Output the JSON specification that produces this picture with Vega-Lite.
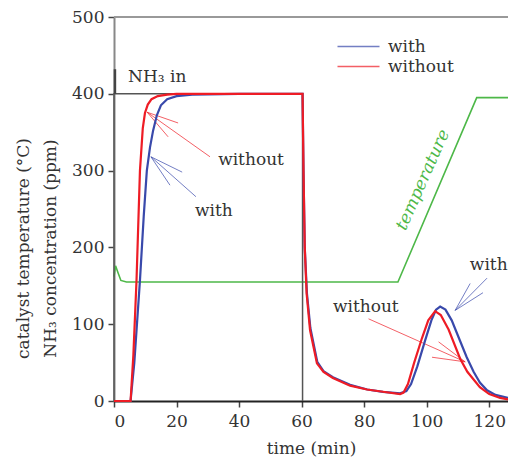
{
  "$schema": "https://vega.github.io/schema/vega-lite/v6.json",
  "width": 394,
  "height": 384,
  "autosize": "none",
  "padding": {"left": 114, "top": 17, "right": 0, "bottom": 58},
  "background": "white",
  "config": {
    "view": {"stroke": null},
    "font": "DejaVu Serif",
    "axis": {
      "grid": false,
      "labelFont": "DejaVu Serif",
      "labelFontSize": 17,
      "labelColor": "#333",
      "tickColor": "#444",
      "tickSize": 6,
      "tickWidth": 1.5,
      "titleFont": "DejaVu Serif",
      "titleFontSize": 17,
      "titleFontWeight": "normal",
      "titleColor": "#333"
    }
  },
  "datasets": {
    "curves": [
      {"t": 0, "v": 0, "series": "with"},
      {"t": 5.3, "v": 0, "series": "with"},
      {"t": 6.5, "v": 50, "series": "with"},
      {"t": 8.3, "v": 157, "series": "with"},
      {"t": 9.5, "v": 240, "series": "with"},
      {"t": 10.5, "v": 300, "series": "with"},
      {"t": 11.5, "v": 330, "series": "with"},
      {"t": 12.5, "v": 352, "series": "with"},
      {"t": 13.7, "v": 372, "series": "with"},
      {"t": 15, "v": 385, "series": "with"},
      {"t": 17, "v": 393, "series": "with"},
      {"t": 20, "v": 397, "series": "with"},
      {"t": 25, "v": 399, "series": "with"},
      {"t": 40, "v": 400, "series": "with"},
      {"t": 60.3, "v": 400, "series": "with"},
      {"t": 60.6, "v": 300, "series": "with"},
      {"t": 61.0, "v": 200, "series": "with"},
      {"t": 61.7, "v": 140, "series": "with"},
      {"t": 62.8, "v": 95, "series": "with"},
      {"t": 65, "v": 51, "series": "with"},
      {"t": 67, "v": 39, "series": "with"},
      {"t": 70, "v": 31, "series": "with"},
      {"t": 75.5, "v": 21, "series": "with"},
      {"t": 81, "v": 15, "series": "with"},
      {"t": 86, "v": 12, "series": "with"},
      {"t": 91.5, "v": 10, "series": "with"},
      {"t": 93.5, "v": 13, "series": "with"},
      {"t": 95, "v": 22, "series": "with"},
      {"t": 97, "v": 45, "series": "with"},
      {"t": 99.5, "v": 79, "series": "with"},
      {"t": 101.5, "v": 105, "series": "with"},
      {"t": 103, "v": 119, "series": "with"},
      {"t": 104.3, "v": 123, "series": "with"},
      {"t": 106, "v": 119, "series": "with"},
      {"t": 108, "v": 105, "series": "with"},
      {"t": 110, "v": 85, "series": "with"},
      {"t": 112.8, "v": 57, "series": "with"},
      {"t": 115, "v": 38, "series": "with"},
      {"t": 117, "v": 24, "series": "with"},
      {"t": 119.3, "v": 14, "series": "with"},
      {"t": 122, "v": 8, "series": "with"},
      {"t": 126, "v": 4, "series": "with"},
      {"t": 0, "v": 0, "series": "without"},
      {"t": 5.3, "v": 0, "series": "without"},
      {"t": 6.2, "v": 60, "series": "without"},
      {"t": 7.2, "v": 157, "series": "without"},
      {"t": 8.3, "v": 300, "series": "without"},
      {"t": 9.2, "v": 355, "series": "without"},
      {"t": 9.9, "v": 375, "series": "without"},
      {"t": 10.8, "v": 386, "series": "without"},
      {"t": 12, "v": 393, "series": "without"},
      {"t": 14, "v": 397, "series": "without"},
      {"t": 17, "v": 399, "series": "without"},
      {"t": 20, "v": 400, "series": "without"},
      {"t": 40, "v": 400, "series": "without"},
      {"t": 60.3, "v": 400, "series": "without"},
      {"t": 60.6, "v": 300, "series": "without"},
      {"t": 61.0, "v": 200, "series": "without"},
      {"t": 61.6, "v": 140, "series": "without"},
      {"t": 62.7, "v": 92, "series": "without"},
      {"t": 64.9, "v": 49, "series": "without"},
      {"t": 67, "v": 38, "series": "without"},
      {"t": 70, "v": 30, "series": "without"},
      {"t": 75.5, "v": 20, "series": "without"},
      {"t": 80.9, "v": 15, "series": "without"},
      {"t": 86, "v": 12, "series": "without"},
      {"t": 91.5, "v": 9, "series": "without"},
      {"t": 92.6, "v": 11, "series": "without"},
      {"t": 94, "v": 22, "series": "without"},
      {"t": 96, "v": 50, "series": "without"},
      {"t": 98.5, "v": 82, "series": "without"},
      {"t": 100.5, "v": 105, "series": "without"},
      {"t": 102.7, "v": 117, "series": "without"},
      {"t": 104.5, "v": 112, "series": "without"},
      {"t": 107, "v": 93, "series": "without"},
      {"t": 110.7, "v": 55, "series": "without"},
      {"t": 113, "v": 38, "series": "without"},
      {"t": 117, "v": 18, "series": "without"},
      {"t": 120, "v": 9, "series": "without"},
      {"t": 123.5, "v": 4, "series": "without"},
      {"t": 126, "v": 2, "series": "without"}
    ],
    "temp": [
      {"t": 0, "v": 162},
      {"t": 0.5, "v": 176},
      {"t": 1.2, "v": 168},
      {"t": 2.2, "v": 157},
      {"t": 4, "v": 155},
      {"t": 90.8, "v": 155},
      {"t": 116, "v": 395},
      {"t": 126, "v": 395}
    ],
    "nh3": [
      {"t": 0, "v": 0},
      {"t": 0, "v": 400},
      {"t": 60.3, "v": 400},
      {"t": 60.3, "v": 0}
    ],
    "marker": [
      {"t": 0.3, "v": 400, "v2": 432}
    ],
    "arrows": [
      {"t": 10.6, "v": 376, "t2": 30.7, "v2": 318, "series": "without"},
      {"t": 10.6, "v": 376, "t2": 20.5, "v2": 362, "series": "without"},
      {"t": 10.6, "v": 376, "t2": 17.3, "v2": 344, "series": "without"},
      {"t": 11.8, "v": 318, "t2": 26.2, "v2": 266, "series": "with"},
      {"t": 11.8, "v": 318, "t2": 21.8, "v2": 298, "series": "with"},
      {"t": 11.8, "v": 318, "t2": 17.9, "v2": 281, "series": "with"},
      {"t": 109.1, "v": 118, "t2": 119.3, "v2": 160, "series": "with"},
      {"t": 109.1, "v": 118, "t2": 113.9, "v2": 153, "series": "with"},
      {"t": 109.1, "v": 118, "t2": 118, "v2": 141, "series": "with"},
      {"t": 112.3, "v": 51, "t2": 81.4, "v2": 107, "series": "without"},
      {"t": 112.3, "v": 51, "t2": 103.8, "v2": 77, "series": "without"},
      {"t": 112.3, "v": 51, "t2": 101.7, "v2": 57, "series": "without"}
    ],
    "labels": [
      {"t": 33.3, "v": 314, "label": "without"},
      {"t": 25.9, "v": 248, "label": "with"},
      {"t": 113.8, "v": 177, "label": "with"},
      {"t": 70, "v": 123, "label": "without"},
      {"t": 4.5, "v": 422, "label": "NH₃ in"}
    ],
    "templabel": [
      {"t": 98.8, "v": 288, "label": "temperature"}
    ]
  },
  "layer": [
    {
      "data": {"name": "temp"},
      "mark": {"type": "line", "color": "#4db848", "strokeWidth": 1.6},
      "encoding": {
        "x": {
          "field": "t", "type": "quantitative",
          "scale": {"domain": [0, 126], "nice": false, "zero": false},
          "axis": {
            "values": [0, 20, 40, 60, 80, 100, 120],
            "title": "time (min)",
            "domainColor": "#222",
            "domainWidth": 2,
            "labelPadding": 6,
            "titlePadding": 11
          }
        },
        "y": {
          "field": "v", "type": "quantitative",
          "scale": {"domain": [0, 500], "nice": false},
          "axis": {
            "values": [0, 100, 200, 300, 400, 500],
            "title": ["catalyst temperature (°C)", "NH₃ concentration (ppm)"],
            "domainColor": "#888",
            "domainWidth": 2,
            "labelPadding": 4,
            "titleX": -91,
            "titleY": 231,
            "titleAngle": -90,
            "titleAlign": "center",
            "titleBaseline": "middle",
            "titleLineHeight": 27
          }
        },
        "order": {"value": null}
      }
    },
    {
      "data": {"values": [{}]},
      "mark": {"type": "rule", "color": "#999", "strokeWidth": 2},
      "encoding": {"y": {"datum": 500, "type": "quantitative"}}
    },
    {
      "data": {"name": "nh3"},
      "mark": {"type": "line", "color": "#555", "strokeWidth": 1.5},
      "encoding": {
        "x": {"field": "t", "type": "quantitative"},
        "y": {"field": "v", "type": "quantitative"},
        "order": {"value": null}
      }
    },
    {
      "data": {"name": "marker"},
      "mark": {"type": "rule", "color": "#444", "strokeWidth": 2.5},
      "encoding": {
        "x": {"field": "t", "type": "quantitative"},
        "y": {"field": "v", "type": "quantitative"},
        "y2": {"field": "v2"}
      }
    },
    {
      "data": {"name": "arrows"},
      "mark": {"type": "rule", "strokeWidth": 1, "opacity": 0.7},
      "encoding": {
        "x": {"field": "t", "type": "quantitative"},
        "y": {"field": "v", "type": "quantitative"},
        "x2": {"field": "t2"},
        "y2": {"field": "v2"},
        "color": {"field": "series", "type": "nominal"}
      }
    },
    {
      "data": {"name": "curves"},
      "mark": {"type": "line", "strokeWidth": 2.2},
      "encoding": {
        "x": {"field": "t", "type": "quantitative"},
        "y": {"field": "v", "type": "quantitative"},
        "color": {
          "field": "series", "type": "nominal",
          "scale": {"domain": ["with", "without"], "range": ["#3949ab", "#ee1c25"]},
          "legend": {
            "title": null,
            "orient": "none",
            "legendX": 233,
            "legendY": 18,
            "padding": 0,
            "symbolType": "M-2,0H2",
            "symbolSize": 441,
            "symbolStrokeWidth": 1.5,
            "labelFont": "DejaVu Serif",
            "labelFontSize": 17,
            "labelColor": "#333",
            "labelOffset": 18,
            "rowPadding": 0
          }
        },
        "order": {"value": null}
      }
    },
    {
      "data": {"name": "labels"},
      "mark": {"type": "text", "align": "left", "baseline": "middle", "fontSize": 17, "font": "DejaVu Serif", "color": "#333"},
      "encoding": {
        "x": {"field": "t", "type": "quantitative"},
        "y": {"field": "v", "type": "quantitative"},
        "text": {"field": "label"}
      }
    },
    {
      "data": {"name": "templabel"},
      "mark": {"type": "text", "align": "center", "baseline": "middle", "fontSize": 17, "font": "DejaVu Serif", "fontStyle": "italic", "color": "#4db848", "angle": -66},
      "encoding": {
        "x": {"field": "t", "type": "quantitative"},
        "y": {"field": "v", "type": "quantitative"},
        "text": {"field": "label"}
      }
    }
  ]
}
